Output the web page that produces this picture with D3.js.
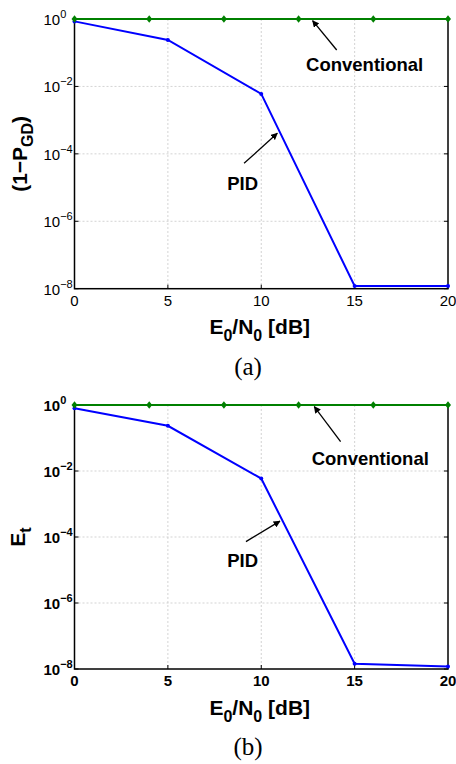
<!DOCTYPE html>
<html>
<head>
<meta charset="utf-8">
<script src="https://cdn.jsdelivr.net/npm/d3@7"></script>
<style>
  body { margin: 0; background: #fff; }
  text { font-family: "Liberation Sans", Arial, sans-serif; }
</style>
</head>
<body>
<svg id="chart" width="456" height="764"></svg>
<script>
// data
const xPID = [0, 5, 10, 15, 20];
const pidA = [0.85, 0.24, 0.006, 1.2e-8, 1.2e-8];
const pidB = [0.8, 0.235, 0.0059, 1.45e-8, 1.2e-8];
const xConv = [0, 4, 8, 12, 16, 20];
const convA = [1, 1, 1, 1, 1, 1];
const convB = [1, 1, 1, 1, 1, 1];
const xTicks = [0, 5, 10, 15, 20];
const yTickExp = [0, -2, -4, -6, -8];

var svg = d3.select("#chart");

var panels = [
  { top: 19, bottom: 288.7, bold: false, pid: pidA, conv: convA, ylab: "a", caption: "(a)",
    xlabBase: 334, capBase: 375,
    convText: [12.4, -1.54], convArrow: [[14.04, -0.92], [12.75, -0.05]],
    pidText: [8.18, -5.07], pidArrow: [[9.08, -4.28], [10.86, -3.39]] },
  { top: 405, bottom: 669, bold: true, pid: pidB, conv: convB, ylab: "b", caption: "(b)",
    xlabBase: 715, capBase: 755,
    convText: [12.7, -1.82], convArrow: [[14.25, -1.11], [12.84, -0.05]],
    pidText: [8.18, -4.9], pidArrow: [[9.18, -4.14], [11.0, -3.52]] }
];

svg.append("defs").append("marker")
  .attr("id", "arrow")
  .attr("viewBox", "0 0 10 10")
  .attr("refX", 9).attr("refY", 5)
  .attr("markerWidth", 7).attr("markerHeight", 7)
  .attr("markerUnits", "userSpaceOnUse")
  .attr("orient", "auto")
  .append("path").attr("d", "M0,0 L10,5 L0,10 z").attr("fill", "#000");

panels.forEach(function(p) {
  var x = d3.scaleLinear().domain([0, 20]).range([74.5, 448]);
  var y = d3.scaleLog().domain([1e-8, 1]).range([p.bottom, p.top]);
  var g = svg.append("g");
  var weight = p.bold ? "bold" : "normal";

  // grid
  g.selectAll(".gx").data(xTicks.slice(1, -1)).join("line")
    .attr("x1", d => x(d)).attr("x2", d => x(d))
    .attr("y1", p.top).attr("y2", p.bottom)
    .attr("stroke", "#c8c8c8").attr("stroke-width", 0.8).attr("stroke-dasharray", "2,2");
  g.selectAll(".gy").data(yTickExp.slice(1, -1)).join("line")
    .attr("x1", x(0)).attr("x2", x(20))
    .attr("y1", d => y(Math.pow(10, d))).attr("y2", d => y(Math.pow(10, d)))
    .attr("stroke", "#c8c8c8").attr("stroke-width", 0.8).attr("stroke-dasharray", "2,2");

  // axes box
  g.append("rect")
    .attr("x", x(0)).attr("y", p.top)
    .attr("width", x(20) - x(0)).attr("height", p.bottom - p.top)
    .attr("fill", "none").attr("stroke", "#000").attr("stroke-width", 1.5);

  // ticks (inward)
  g.selectAll(".tx").data(xTicks).join("line")
    .attr("x1", d => x(d)).attr("x2", d => x(d))
    .attr("y1", p.bottom).attr("y2", p.bottom - 4)
    .attr("stroke", "#000").attr("stroke-width", 1);
  g.selectAll(".tyl").data(yTickExp).join("line")
    .attr("x1", x(0)).attr("x2", x(0) + 4)
    .attr("y1", d => y(Math.pow(10, d))).attr("y2", d => y(Math.pow(10, d)))
    .attr("stroke", "#000").attr("stroke-width", 1);
  g.selectAll(".tyr").data(yTickExp).join("line")
    .attr("x1", x(20)).attr("x2", x(20) - 4)
    .attr("y1", d => y(Math.pow(10, d))).attr("y2", d => y(Math.pow(10, d)))
    .attr("stroke", "#000").attr("stroke-width", 1);

  // x tick labels
  g.selectAll(".xl").data(xTicks).join("text")
    .attr("x", d => x(d)).attr("y", p.bottom + 17)
    .attr("text-anchor", "middle")
    .attr("font-size", 15).attr("font-weight", weight)
    .text(d => d);

  // y tick labels 10^k
  var yl = g.selectAll(".yl").data(yTickExp).join("text")
    .attr("x", 43.5).attr("y", d => y(Math.pow(10, d)) + 6)
    .attr("font-size", 15).attr("font-weight", weight);
  yl.append("tspan").text("10");
  yl.append("tspan").attr("dy", -7).attr("font-size", 11)
    .text(d => d === 0 ? "0" : "\u2212" + (-d));

  // lines
  var line = d3.line().x(d => x(d[0])).y(d => y(d[1]));
  var pidPts = d3.zip(xPID, p.pid);
  var convPts = d3.zip(xConv, p.conv);

  g.append("path").datum(pidPts).attr("d", line)
    .attr("fill", "none").attr("stroke", "#0000ff").attr("stroke-width", 2);
  g.selectAll(".pm").data(pidPts).join("circle")
    .attr("cx", d => x(d[0])).attr("cy", d => y(d[1])).attr("r", 2)
    .attr("fill", "#0000ff");

  g.append("path").datum(convPts).attr("d", line)
    .attr("fill", "none").attr("stroke", "#008000").attr("stroke-width", 2.2);
  g.selectAll(".cm").data(convPts).join("path")
    .attr("transform", d => `translate(${x(d[0])},${y(d[1])})`)
    .attr("d", "M0,-3.8 L3,0 L0,3.8 L-3,0 Z")
    .attr("fill", "#008000");

  // annotations
  var pt = d => [x(d[0]), y(Math.pow(10, d[1]))];
  [p.convArrow, p.pidArrow].forEach(function(a) {
    var s = pt(a[0]), e = pt(a[1]);
    g.append("line")
      .attr("x1", s[0]).attr("y1", s[1]).attr("x2", e[0]).attr("y2", e[1])
      .attr("stroke", "#000").attr("stroke-width", 1.3)
      .attr("marker-end", "url(#arrow)");
  });
  var ct = pt(p.convText);
  g.append("text").attr("x", ct[0]).attr("y", ct[1])
    .attr("font-size", 18.5).attr("font-weight", "bold").text("Conventional");
  var ptx = pt(p.pidText);
  g.append("text").attr("x", ptx[0]).attr("y", ptx[1])
    .attr("font-size", 18.5).attr("font-weight", "bold").text("PID");

  // x label
  var xl = g.append("text")
    .attr("x", (x(0) + x(20)) / 2 - 1.5).attr("y", p.xlabBase)
    .attr("text-anchor", "middle").attr("font-size", 21).attr("font-weight", "bold");
  xl.append("tspan").text("E");
  xl.append("tspan").attr("dy", 7).attr("font-size", 16).text("0");
  xl.append("tspan").attr("dy", -7).text("/N");
  xl.append("tspan").attr("dy", 7).attr("font-size", 16).text("0");
  xl.append("tspan").attr("dy", -7).text(" [dB]");

  // y label
  var cy = (p.top + p.bottom) / 2;
  var ylab = g.append("text")
    .attr("transform", `translate(${p.ylab === "a" ? 27 : 25},${cy}) rotate(-90)`)
    .attr("text-anchor", "middle").attr("font-size", 21).attr("font-weight", "bold");
  if (p.ylab === "a") {
    ylab.append("tspan").text("(1\u2212P");
    ylab.append("tspan").attr("dy", 6).attr("font-size", 16).text("GD");
    ylab.append("tspan").attr("dy", -6).text(")");
  } else {
    ylab.append("tspan").text("E");
    ylab.append("tspan").attr("dy", 6).attr("font-size", 16).text("t");
  }

  // caption
  g.append("text")
    .attr("x", 248).attr("y", p.capBase)
    .attr("text-anchor", "middle")
    .style("font-family", "'Liberation Serif', 'Times New Roman', serif")
    .attr("font-size", 25).text(p.caption);
});
</script>
</body>
</html>
